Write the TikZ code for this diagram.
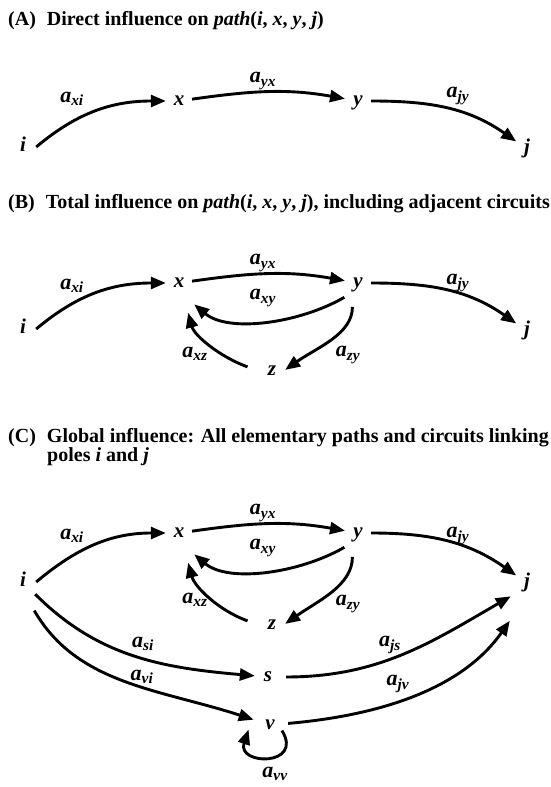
\documentclass[tikz,border=0pt]{standalone}
\usepackage{fontspec}
\setmainfont{Liberation Serif}
\usepackage{tikz}
\usetikzlibrary{arrows.meta}
\newcommand{\coef}[1]{a\textsubscript{#1}}

\begin{document}
\begin{tikzpicture}[x=1pt, y=1pt,
		pole/.style={circle, inner sep=0pt, minimum size=26pt, text height=9pt, text depth=0pt,
			font=\fontsize{21}{24}\selectfont\bfseries\itshape},
		coef/.style={inner sep=0pt, font=\fontsize{22}{24}\selectfont\bfseries\itshape},
		heading/.style={anchor=base west, inner sep=0pt, font=\fontsize{20}{24}\selectfont\bfseries},
		infl/.style={line width=2.9pt, -{Triangle[length=15pt, width=12pt]}}]
	\useasboundingbox (0,0) rectangle (551,787);

		\node[heading] (titleA) at (8,761) {(A)\hspace{0.55em}Direct influence on \textit{path}(\textit{i}, \textit{x}, \textit{y}, \textit{j})};
		\node[pole] (iA) at (23,640) {i};
		\node[pole] (xA) at (179,686) {x};
		\node[pole] (yA) at (358,686) {y};
		\node[pole] (jA) at (527,638) {j};
		\draw[infl] (iA.east) to[out=40, in=180] (xA);
		\draw[infl] (xA) to[out=8, in=170] (yA);
		\draw[infl] (yA) to[out=0, in=145] (jA);
		\node[coef] (axiA) at (72,688) {\coef{xi}};
		\node[coef] (ayxA) at (263,706) {\coef{yx}};
		\node[coef] (ajyA) at (458,691) {\coef{jy}};

		\node[heading] (titleB) at (8,578) {(B)\hspace{0.55em}Total influence on \textit{path}(\textit{i}, \textit{x}, \textit{y}, \textit{j}), including adjacent circuits};
		\node[pole] (iB) at (23,458) {i};
		\node[pole] (xB) at (179,504) {x};
		\node[pole] (yB) at (358,504) {y};
		\node[pole] (jB) at (527,456) {j};
		\node[pole] (zB) at (272,416) {z};
		\draw[infl] (iB.east) to[out=40, in=180] (xB);
		\draw[infl] (xB) to[out=8, in=170] (yB);
		\draw[infl] (yB) to[out=0, in=145] (jB);
		\draw[infl, shorten <=7pt, shorten >=14pt] (yB.-125) to[out=210, in=-40, looseness=0.9] (xB.-70);
		\draw[infl, shorten <=12pt] (yB.-115) to[out=-90, in=35] (zB.5);
		\draw[infl, shorten <=12pt, shorten >=18pt] (zB.west) to[out=160, in=-75] (xB.-70);
		\node[coef] (axiB) at (72,501) {\coef{xi}};
		\node[coef] (ayxB) at (263,524) {\coef{yx}};
		\node[coef] (axyB) at (263,489) {\coef{xy}};
		\node[coef] (ajyB) at (458,504) {\coef{jy}};
		\node[coef] (axzB) at (195,433) {\coef{xz}};
		\node[coef] (azyB) at (348,432) {\coef{zy}};

		\node[heading] (titleC) at (8,344) {(C)\hspace{0.55em}Global influence: All elementary paths and circuits linking};
		\node[heading] (titleCpoles) at (47,325) {poles \textit{i} and \textit{j}};
		\node[pole] (iC) at (23,205) {i};
		\node[pole] (xC) at (179,254) {x};
		\node[pole] (yC) at (358,254) {y};
		\node[pole] (jC) at (527,204) {j};
		\node[pole] (zC) at (272,162) {z};
		\node[pole] (sC) at (268,110) {s};
		\node[pole] (vC) at (270,62) {v};
		\draw[infl] (iC.east) to[out=40, in=180] (xC);
		\draw[infl] (xC) to[out=8, in=170] (yC);
		\draw[infl] (yC) to[out=0, in=145] (jC);
		\draw[infl, shorten <=7pt, shorten >=14pt] (yC.-125) to[out=210, in=-40, looseness=0.9] (xC.-70);
		\draw[infl, shorten <=12pt] (yC.-115) to[out=-90, in=35] (zC.5);
		\draw[infl, shorten <=12pt, shorten >=18pt] (zC.west) to[out=160, in=-75] (xC.-70);
		\draw[infl, shorten <=4pt] (iC.-45) to[out=-45, in=175] (sC);
		\draw[infl, shorten <=18pt, shorten >=4pt] (iC.-80) to[out=-60, in=162] (vC);
		\draw[infl, shorten <=5pt, shorten >=8pt] (sC) to[out=0, in=210] (jC.225);
		\draw[infl, shorten <=5pt, shorten >=30pt] (vC) to[out=5, in=235] (jC.south);
		\draw[infl] (vC.-25) .. controls +(22,-36) and +(-12,-36) .. ([xshift=-9pt]vC.-160);
		\node[coef] (axiC) at (72,251) {\coef{xi}};
		\node[coef] (ayxC) at (263,274) {\coef{yx}};
		\node[coef] (axyC) at (263,239) {\coef{xy}};
		\node[coef] (ajyC) at (458,251) {\coef{jy}};
		\node[coef] (axzC) at (195,187) {\coef{xz}};
		\node[coef] (azyC) at (348,183) {\coef{zy}};
		\node[coef] (asiC) at (143,143) {\coef{si}};
		\node[coef] (ajsC) at (390,142) {\coef{js}};
		\node[coef] (aviC) at (142,110) {\coef{vi}};
		\node[coef] (ajvC) at (398,103) {\coef{jv}};
		\node[coef] (avvC) at (275,13) {\coef{vv}};
	\end{tikzpicture}
\end{document}
